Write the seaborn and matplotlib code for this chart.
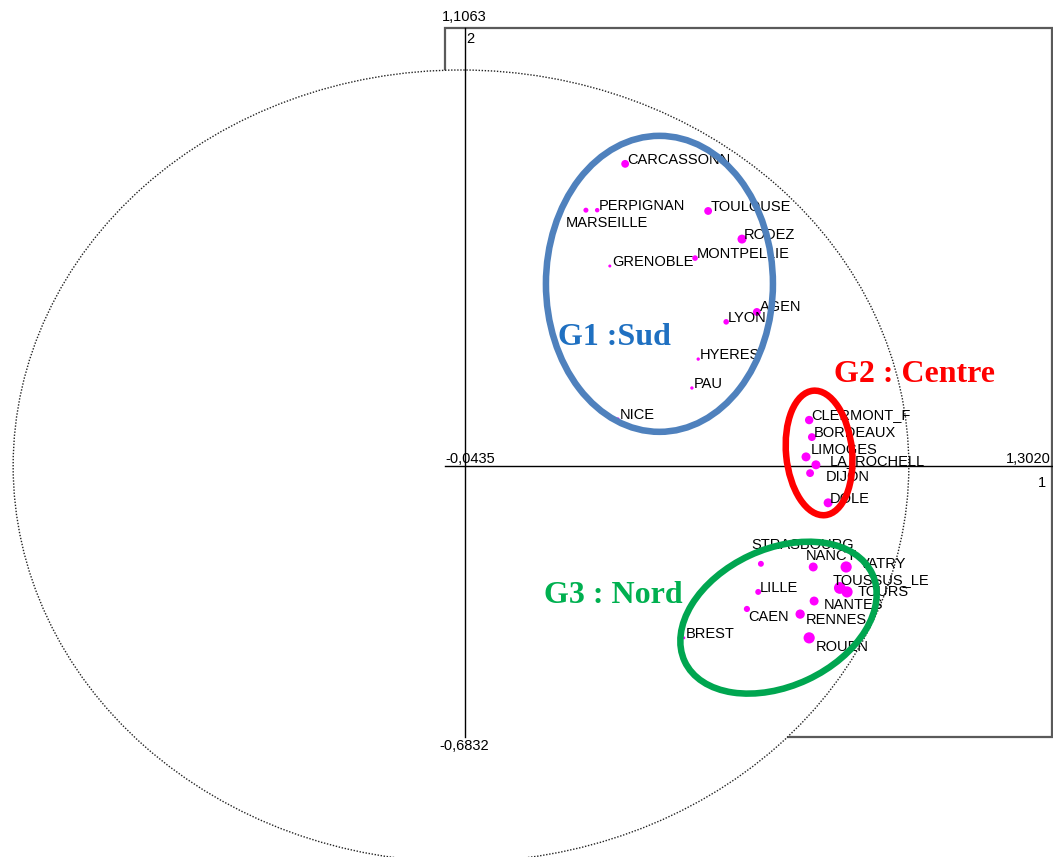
import matplotlib
matplotlib.use("Agg")
import matplotlib.pyplot as plt
import seaborn as sns
import numpy as np
import pandas as pd
from matplotlib.patches import Ellipse, Rectangle
from matplotlib.transforms import Affine2D

# factor map coordinates (axis 1, axis 2)
cities = ["CARCASSONN", "PERPIGNAN", "MARSEILLE", "TOULOUSE", "RODEZ", "MONTPELLIE",
          "GRENOBLE", "AGEN", "LYON", "HYERES", "PAU", "NICE",
          "CLERMONT_F", "BORDEAUX", "LIMOGES", "LA_ROCHELL", "DIJON", "DOLE",
          "STRASBOURG", "NANCY", "VATRY", "TOUSSUS_LE", "TOURS", "LILLE",
          "NANTES", "CAEN", "RENNES", "BREST", "ROUEN"]
axis1 = [0.356, 0.294, 0.269, 0.540, 0.615, 0.511,
         0.322, 0.648, 0.580, 0.518, 0.504, 0.340,
         0.764, 0.770, 0.757, 0.779, 0.766, 0.806,
         0.657, 0.773, 0.846, 0.832, 0.848, 0.651,
         0.775, 0.626, 0.744, 0.486, 0.764]
axis2 = [0.763, 0.646, 0.646, 0.644, 0.573, 0.525,
         0.505, 0.389, 0.364, 0.270, 0.197, 0.119,
         0.116, 0.073, 0.023, 0.003, -0.018, -0.093,
         -0.247, -0.255, -0.255, -0.308, -0.318, -0.318,
         -0.341, -0.361, -0.374, -0.434, -0.434]
# point weight (dot diameter on the map)
weight = [7, 4, 4.5, 7, 8, 5,
          2.7, 7, 5, 3, 3, 2.7,
          7.5, 7, 8, 8, 7, 8,
          5.3, 8, 10, 10.5, 10, 5.3,
          8, 5.5, 8.3, 2.7, 10]

x_min, x_max = -0.0435, 1.3020
y_min, y_max = -0.6832, 1.1063

groups = ["G1 :Sud", "G2 : Centre", "G3 : Nord"]

# pixel scale of the map
PX_X, PX_Y = 451.0, 396.0
OX, OY = 464.6, 466.0
W, H = 1053, 857

label_shift = {"MARSEILLE": (-20, 13), "LIMOGES": (5, -7), "LA_ROCHELL": (14, -4),
               "DIJON": (16, 4), "STRASBOURG": (-10, -19), "NANCY": (-7, -11),
               "VATRY": (14, -3), "TOUSSUS_LE": (-7, -8), "TOURS": (11, 0),
               "NANTES": (10, 4), "CAEN": (1, 8), "RENNES": (6, 6), "ROUEN": (7, 9),
               "AGEN": (3, -5), "CLERMONT_F": (2, -5)}

df = pd.DataFrame({"city": cities, "ax1": axis1, "ax2": axis2, "weight": weight})
df["area"] = (df["weight"] * 0.72 * 1.12) ** 2

fig = plt.figure(figsize=(W / 100, H / 100), dpi=100)
ax = fig.add_axes([0, 0, 1, 1])
ax.set_axis_off()
ax.set_xlim(-OX / PX_X, (W - OX) / PX_X)
ax.set_ylim(-(H - OY) / PX_Y, OY / PX_Y)

# frame and correlation circle
ax.add_patch(Rectangle((x_min, y_min), x_max - x_min, y_max - y_min, fill=False,
                       ec="#5a5a5a", lw=1.6, zorder=1))
ax.add_patch(Ellipse((-0.008, 0), 2 * 0.993, 2.0, fc="white", ec="#222222",
                     ls=(0, (1, 1.2)), lw=1.0, zorder=2))
ax.plot([x_min, x_max], [0, 0], color="black", lw=1, zorder=3)
ax.plot([0, 0], [y_min, y_max], color="black", lw=1, zorder=3)

sns.scatterplot(data=df, x="ax1", y="ax2", size="area",
                sizes=(df["area"].min(), df["area"].max()),
                size_norm=(df["area"].min(), df["area"].max()),
                color="#ff00ff", linewidth=0, legend=False, ax=ax, zorder=4)

lab = dict(family="Liberation Sans", fontsize=10.5, color="black")
for name, x, y in zip(cities, axis1, axis2):
    dx, dy = label_shift.get(name, (2, -4))
    ax.annotate(name, (x, y), xytext=(dx * 0.72, -dy * 0.72), textcoords="offset points",
                ha="left", va="center", zorder=5, **lab)

# axis limit labels
ax.annotate("1,1063", (0, y_max), xytext=(0, 3), textcoords="offset points",
            ha="center", va="bottom", **lab)
ax.annotate("2", (0, y_max), xytext=(1.5, -3), textcoords="offset points",
            ha="left", va="top", **lab)
ax.annotate("-0,6832", (0, y_min), xytext=(0, -2), textcoords="offset points",
            ha="center", va="top", **lab)
ax.annotate("-0,0435", (x_min, 0), xytext=(0, 0), textcoords="offset points",
            ha="left", va="bottom", **lab)
ax.annotate("1,3020", (x_max, 0), xytext=(-1, 0), textcoords="offset points",
            ha="right", va="bottom", **lab)
ax.annotate("1", (x_max, 0), xytext=(-4, -7), textcoords="offset points",
            ha="right", va="top", **lab)

# group ellipses, sized in pixels
px = Affine2D().scale(1 / PX_X, 1 / PX_Y) + ax.transData
ell = [((0.432, 0.460), 227, 296, 0, "#4f81bd"),
       ((0.786, 0.033), 66, 125, 5.5, "#ff0000"),
       ((0.696, -0.383), 207, 137, 25, "#00a650")]
for (cx, cy), w, h, ang, c in ell:
    ax.add_patch(Ellipse((cx * PX_X, cy * PX_Y), w, h, angle=ang, fill=False,
                         ec=c, lw=4.7, transform=px, zorder=6))

grp_pos = [(0.207, 0.306), (0.819, 0.212), (0.176, -0.346)]
grp_col = ["#1f70c1", "#ff0000", "#00b050"]
for g, (gx, gy), c in zip(groups, grp_pos, grp_col):
    ax.text(gx, gy, g, ha="left", va="baseline", family="Liberation Serif",
            fontweight="bold", fontsize=23, color=c, zorder=7)

fig.savefig("out.png", dpi=100)
plt.close(fig)
